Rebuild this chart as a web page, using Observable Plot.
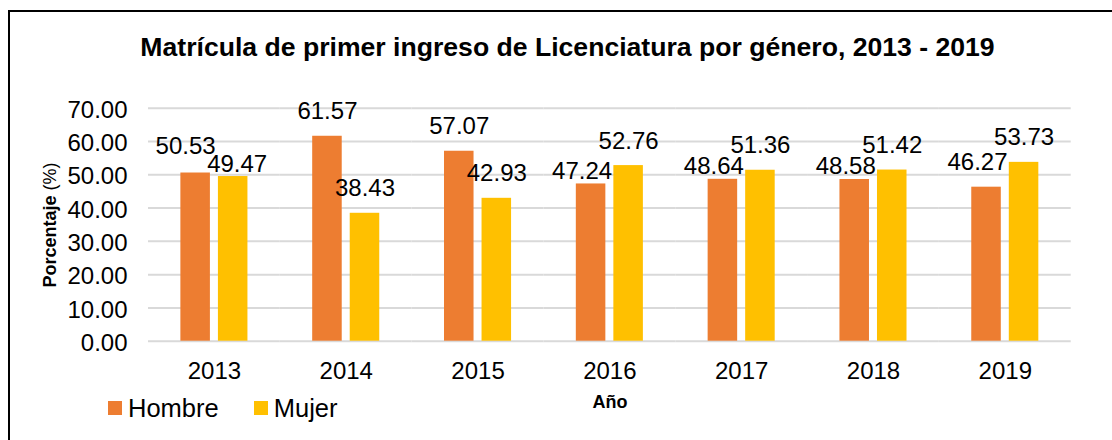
<!DOCTYPE html>
<html>
<head>
<meta charset="utf-8">
<script src="https://cdn.jsdelivr.net/npm/d3@7"></script>
<script src="https://cdn.jsdelivr.net/npm/@observablehq/plot@0.6"></script>
<style>
  html, body { margin: 0; padding: 0; background: #fff; }
  body { width: 1112px; height: 440px; position: relative; overflow: hidden;
         font-family: "Liberation Sans", Arial, sans-serif; color: #000; }
  #frame { position: absolute; left: 8px; top: 10px; width: 1300px; height: 600px;
           border: 2px solid #000; box-sizing: border-box; }
  #title { position: absolute; left: 0; width: 1135px; top: 30px; text-align: center;
           font-weight: bold; font-size: 26.6px; line-height: 34px; white-space: nowrap; }
  #chart { position: absolute; left: 0; top: 80px; }
  #ylabel { position: absolute; left: 50px; top: 225px; transform: translate(-50%, -50%) rotate(-90deg);
            font-size: 18px; white-space: nowrap; line-height: 20px; }
  #ylabel b { font-weight: bold; }
  #xlabel { position: absolute; left: 610px; top: 402px; transform: translate(-50%, -50%);
            font-size: 18px; font-weight: bold; white-space: nowrap; }
  #legend { position: absolute; left: 108px; top: 393px; display: flex; align-items: center;
            font-size: 25.5px; line-height: 30px; }
  .item { display: flex; align-items: center; margin-right: 35px; }
  .sw { width: 14px; height: 14px; margin-right: 6px; }
</style>
</head>
<body>
<div id="frame"></div>
<div id="title"></div>
<div id="chart"></div>
<div id="ylabel"><b>Porcentaje</b> (%)</div>
<div id="xlabel">Año</div>
<div id="legend"></div>
<script>
const title = "Matrícula de primer ingreso de Licenciatura por género, 2013 - 2019";
const years = ["2013", "2014", "2015", "2016", "2017", "2018", "2019"];
const genders = ["Hombre", "Mujer"];
const hombre = [50.53, 61.57, 57.07, 47.24, 48.64, 48.58, 46.27];
const mujer = [49.47, 38.43, 42.93, 52.76, 51.36, 51.42, 53.73];
const yTicks = [0, 10, 20, 30, 40, 50, 60, 70];
const colors = ["#ED7D31", "#FFC000"];

const rows = [];
years.forEach((yr, i) => {
  const close = Math.abs(hombre[i] - mujer[i]) < 6;
  rows.push({year: yr, gender: genders[0], value: hombre[i], close, lower: hombre[i] < mujer[i]});
  rows.push({year: yr, gender: genders[1], value: mujer[i], close, lower: mujer[i] < hombre[i]});
});

document.getElementById("title").textContent = title;

const font = '"Liberation Sans", Arial, sans-serif';
const FS = 24;
const labelOpts = (filter, dx, dy) => ({
  fx: "year", x: "gender", y: "value", text: d => d.value.toFixed(2), filter,
  lineAnchor: "bottom", dx, dy, fontSize: FS, fill: "#000"
});
const isH = d => d.gender === genders[0];

const chart = Plot.plot({
  width: 1112,
  height: 310,
  marginTop: 27.7,
  marginBottom: 49.3,
  marginLeft: 148,
  marginRight: 41.3,
  style: {fontFamily: font, fontSize: FS + "px", color: "#000", background: "transparent", overflow: "visible"},
  fx: {domain: years, padding: 0, label: null, round: false},
  x: {domain: genders, paddingInner: 0.2133, paddingOuter: 0.8626, axis: null, round: false},
  y: {domain: [0, 70], axis: null},
  color: {domain: genders, range: colors},
  marks: [
    Plot.ruleY(yTicks, {stroke: "#d9d9d9", strokeWidth: 2}),
    Plot.barY(rows, {fx: "year", x: "gender", y: "value", fill: "gender"}),
    // default labels (outside end); a lower Hombre label is nudged left, away from the taller bar
    Plot.text(rows, labelOpts(d => !d.close && !(isH(d) && d.lower), 0, -17)),
    Plot.text(rows, labelOpts(d => !d.close && isH(d) && d.lower, -9, -17)),
    // close pairs: higher label stays up, lower label sits closer to its bar; Hombre label nudged left
    Plot.text(rows, labelOpts(d => d.close && !d.lower && isH(d), -10, -19)),
    Plot.text(rows, labelOpts(d => d.close && !d.lower && !isH(d), 0, -17)),
    Plot.text(rows, labelOpts(d => d.close && d.lower && isH(d), -9, -5)),
    Plot.text(rows, labelOpts(d => d.close && d.lower && !isH(d), 4, -5)),
    Plot.axisY({ticks: yTicks, tickFormat: d3.format(".2f"), tickSize: 0, tickPadding: 21,
      fontSize: FS, dy: 2, label: null, fill: "#000"}),
    Plot.axisFx({anchor: "bottom", tickSize: 0, tickPadding: 21, fontSize: FS, label: null, fill: "#000"})
  ]
});
document.getElementById("chart").appendChild(chart);

const legend = document.getElementById("legend");
genders.forEach((g, i) => {
  const it = document.createElement("div");
  it.className = "item";
  const sw = document.createElement("div");
  sw.className = "sw";
  sw.style.background = colors[i];
  const t = document.createElement("span");
  t.textContent = g;
  it.appendChild(sw); it.appendChild(t);
  legend.appendChild(it);
});
</script>
</body>
</html>
